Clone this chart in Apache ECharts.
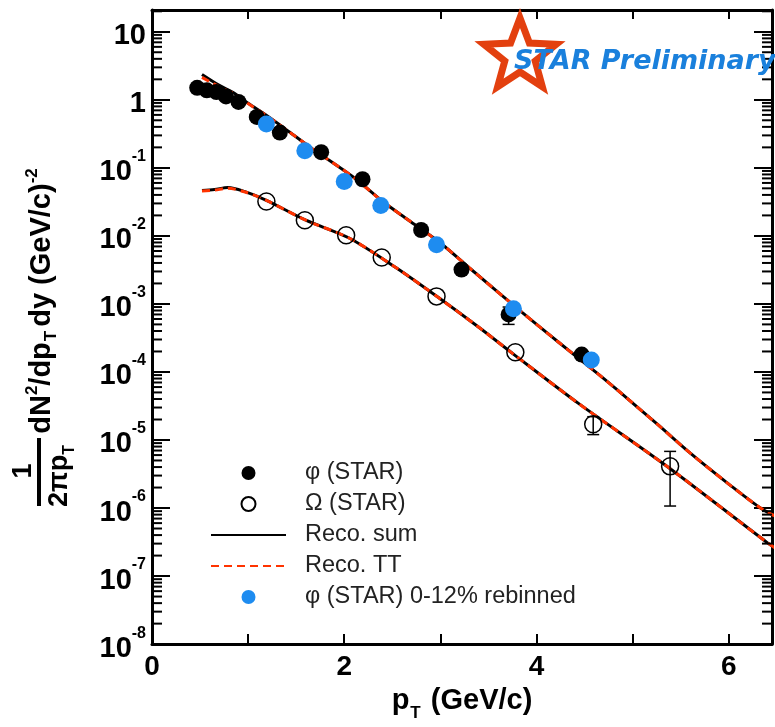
<!doctype html>
<html lang="en">
<head>
<meta charset="UTF-8">
<title>phi / Omega spectra</title>
<style>
    html, body { margin: 0; padding: 0; background: #fff; }
    #main { width: 775px; height: 727px; }
</style>
</head>
<body>
<div id="main"></div>
<script src="https://cdn.jsdelivr.net/npm/echarts@6/dist/echarts.min.js"></script>
<script type="text/javascript">
// phi (STAR) points
var phiX = [0.47, 0.57, 0.67, 0.77, 0.9, 1.09, 1.33, 1.76, 2.19, 2.8, 3.22, 3.71, 4.47];
var phiY = [1.5, 1.38, 1.3, 1.12, 0.93, 0.56, 0.33, 0.17, 0.068, 0.0122, 0.0032, 7.0e-4, 1.8e-4];
// phi (STAR) 0-12% rebinned
var phiRebX = [1.19, 1.59, 2.0, 2.38, 2.96, 3.76, 4.57];
var phiRebY = [0.44, 0.178, 0.063, 0.028, 0.0074, 8.5e-4, 1.5e-4];
// Omega (STAR)
var omegaX = [1.19, 1.59, 2.02, 2.39, 2.96, 3.78, 4.59, 5.39];
var omegaY = [0.032, 0.017, 0.0102, 0.0048, 1.29e-3, 1.95e-4, 1.7e-5, 4.1e-6];
// error bars [x, low, high]
var errBars = [
    [3.71, 5.0e-4, 9.0e-4],
    [4.59, 1.2e-5, 2.2e-5],
    [5.39, 1.07e-6, 6.8e-6]
];

// model curves
var phiCurveX = [0.52, 0.7, 0.84, 1.0, 1.2, 1.43, 1.67, 2.1, 2.4, 2.67, 3.0, 3.3, 3.85, 4.23, 4.64, 4.85, 5.26, 5.6, 6.0, 6.33, 6.5];
var phiSumY = [2.36, 1.63, 1.29, 0.89, 0.577, 0.337, 0.19, 0.072, 0.032, 0.017, 0.00785, 0.0034, 7.5e-4, 2.73e-4, 9.35e-5, 5.3e-5, 1.69e-5, 6.4e-6, 2.25e-6, 1.0e-6, 7.4e-7];
var phiTTY = [2.14, 1.55, 1.25, 0.88, 0.575, 0.336, 0.19, 0.072, 0.032, 0.017, 0.00785, 0.0034, 7.5e-4, 2.73e-4, 9.35e-5, 5.3e-5, 1.69e-5, 6.4e-6, 2.25e-6, 1.0e-6, 7.4e-7];
var omegaCurveX = [0.52, 0.65, 0.79, 0.96, 1.19, 1.6, 2.05, 2.54, 2.98, 3.4, 3.76, 4.44, 5.37, 6.4, 6.5];
var omegaSumY = [0.0466, 0.048, 0.0514, 0.045, 0.0333, 0.017, 0.0093, 0.0034, 1.24e-3, 4.53e-4, 1.83e-4, 3.42e-5, 3.98e-6, 3.1e-7, 2.5e-7];
var omegaTTY = [0.0455, 0.047, 0.05, 0.0445, 0.0333, 0.017, 0.0093, 0.0034, 1.24e-3, 4.53e-4, 1.83e-4, 3.42e-5, 3.98e-6, 3.1e-7, 2.5e-7];

var xTickLabels = ['0', '2', '4', '6'];
var yDecades = [-8, -7, -6, -5, -4, -3, -2, -1, 0, 1];

var X_MAX = 6.45, Y_MAX = 1.32;
var font = 'Liberation Sans';

function lg(v) { return Math.log10(v); }
function pairs(xs, ys) {
    return xs.map(function (x, i) { return [x, lg(ys[i])]; });
}

// log minor ticks 2..9 x 10^n
var minorTicks = [];
yDecades.forEach(function (n) {
    for (var k = 2; k <= 9; k++) {
        var v = lg(k) + n;
        if (v < Y_MAX) minorTicks.push([0, v]);
    }
});

var myChart = echarts.init(document.getElementById('main'), null, { renderer: 'canvas' });

var axisCommon = {
    type: 'value',
    axisLine: { show: true, onZero: false, lineStyle: { color: '#000', width: 3 } },
    splitLine: { show: false }
};

// star outline for the logo
var starPts = [];
for (var i = 0; i < 10; i++) {
    var a = -Math.PI / 2 + i * Math.PI / 5;
    var r = (i % 2 === 0) ? 38 : 16;
    starPts.push([520 + r * Math.cos(a), 56 + r * Math.sin(a)]);
}

var option = {
    animation: false,
    backgroundColor: '#fff',
    grid: { left: 152, top: 10, width: 621, height: 640 },
    legend: {
        orient: 'vertical',
        left: 205,
        top: 456,
        itemWidth: 75,
        itemHeight: 14,
        itemGap: 7,
        textStyle: { fontFamily: font, fontSize: 23.5, lineHeight: 24, color: '#222', padding: [0, 0, 0, 14] },
        data: [
            'φ (STAR)',
            'Ω (STAR)',
            { name: 'Reco. sum', itemStyle: { opacity: 0 } },
            { name: 'Reco. TT', itemStyle: { opacity: 0 } },
            'φ (STAR) 0-12% rebinned'
        ],
        selectedMode: false
    },
    xAxis: [
        Object.assign({}, axisCommon, {
            position: 'bottom',
            min: 0, max: X_MAX, interval: 1,
            axisTick: { show: true, inside: true, length: 10, lineStyle: { color: '#000', width: 2 } },
            axisLabel: {
                margin: 9, fontFamily: font, fontSize: 28, fontWeight: 'bold', color: '#000',
                formatter: function (v) {
                    var s = String(v);
                    return xTickLabels.indexOf(s) >= 0 ? s : '';
                }
            },
            name: '{b|p}{sub|T}{b| (GeV/c)}',
            nameLocation: 'middle',
            nameGap: 41,
            nameTextStyle: {
                rich: {
                    b: { fontFamily: font, fontSize: 29, fontWeight: 'bold', color: '#000', lineHeight: 36, verticalAlign: 'top' },
                    sub: { fontFamily: font, fontSize: 17, fontWeight: 'bold', color: '#000', lineHeight: 36, verticalAlign: 'bottom', padding: [0, 2, 0, 1] }
                }
            }
        }),
        Object.assign({}, axisCommon, {
            position: 'top',
            min: 0, max: X_MAX, interval: 1,
            axisTick: { show: true, inside: true, length: 9, lineStyle: { color: '#000', width: 2 } },
            axisLabel: { show: false }
        })
    ],
    yAxis: [
        Object.assign({}, axisCommon, {
            position: 'left',
            min: -8, max: Y_MAX, interval: 1,
            axisTick: { show: true, inside: true, length: 18, lineStyle: { color: '#000', width: 2 } },
            axisLabel: {
                margin: 6,
                formatter: function (v) {
                    if (Math.abs(v - Math.round(v)) > 1e-6) return '';
                    var n = Math.round(v);
                    if (n === 0) return '{b|1}';
                    if (n === 1) return '{b|10}';
                    return '{b|10}{s|' + n + '}';
                },
                rich: {
                    b: { fontFamily: font, fontSize: 29, fontWeight: 'bold', color: '#000', lineHeight: 38, verticalAlign: 'bottom' },
                    s: { fontFamily: font, fontSize: 16, fontWeight: 'bold', color: '#000', lineHeight: 22, verticalAlign: 'top' }
                }
            }
        }),
        Object.assign({}, axisCommon, {
            position: 'right',
            min: -8, max: Y_MAX, interval: 1,
            axisTick: { show: true, inside: true, length: 18, lineStyle: { color: '#000', width: 2 } },
            axisLabel: { show: false }
        })
    ],
    graphic: [
        // y axis title, rotated
        {
            type: 'text', x: 24, y: 471, rotation: Math.PI / 2,
            style: { text: '1', font: 'bold 27px ' + font, fill: '#000', align: 'center', verticalAlign: 'middle' }
        },
        {
            type: 'rect', shape: { x: 37, y: 438, width: 4, height: 68 }, style: { fill: '#000' }
        },
        {
            type: 'text', x: 62, y: 476, rotation: Math.PI / 2,
            style: {
                text: '{n|2πp}{sub|T}', align: 'center', verticalAlign: 'middle',
                rich: {
                    n: { font: 'bold 27px ' + font, fill: '#000', lineHeight: 32, verticalAlign: 'top' },
                    sub: { font: 'bold 16px ' + font, fill: '#000', lineHeight: 32, verticalAlign: 'bottom' }
                }
            }
        },
        {
            type: 'text', x: 42, y: 301, rotation: Math.PI / 2,
            style: {
                text: '{n|dN}{sup|2}{n|/dp}{sub|T}{n|dy (GeV/c)}{sup|-2}',
                align: 'center', verticalAlign: 'middle',
                rich: {
                    n: { font: 'bold 29px ' + font, fill: '#000', lineHeight: 36, verticalAlign: 'middle' },
                    sup: { font: 'bold 17px ' + font, fill: '#000', lineHeight: 36, verticalAlign: 'top' },
                    sub: { font: 'bold 17px ' + font, fill: '#000', lineHeight: 36, verticalAlign: 'bottom', padding: [0, 4, 0, 1] }
                }
            }
        },
        // STAR Preliminary logo
        {
            type: 'polygon', shape: { points: starPts },
            style: { fill: 'none', stroke: '#e3400f', lineWidth: 7, lineJoin: 'miter' }, z: 10
        },
        {
            type: 'text', x: 514, y: 62, z: 11,
            style: {
                text: 'STAR Preliminary', font: 'italic bold 27px "DejaVu Sans"',
                fill: '#1a80dc', verticalAlign: 'middle'
            }
        }
    ],
    series: [
        {
            name: 'Reco. sum', type: 'line', data: pairs(phiCurveX, phiSumY),
            symbol: 'none', smooth: 0.3, z: 2,
            lineStyle: { color: '#000', width: 3 }, itemStyle: { color: '#000' }
        },
        {
            name: 'Reco. sum', type: 'line', data: pairs(omegaCurveX, omegaSumY),
            symbol: 'none', smooth: 0.3, z: 2,
            lineStyle: { color: '#000', width: 3 }, itemStyle: { color: '#000' }
        },
        {
            name: 'Reco. TT', type: 'line', data: pairs(phiCurveX, phiTTY),
            symbol: 'none', smooth: 0.3, z: 3,
            lineStyle: { color: '#ff3300', width: 3, type: [8, 5] }, itemStyle: { color: '#ff3300' }
        },
        {
            name: 'Reco. TT', type: 'line', data: pairs(omegaCurveX, omegaTTY),
            symbol: 'none', smooth: 0.3, z: 3,
            lineStyle: { color: '#ff3300', width: 3, type: [8, 5] }, itemStyle: { color: '#ff3300' }
        },
        {
            name: 'errors', type: 'custom', z: 4,
            data: errBars.map(function (e) { return [e[0], lg(e[1]), lg(e[2])]; }),
            renderItem: function (params, api) {
                var lo = api.coord([api.value(0), api.value(1)]);
                var hi = api.coord([api.value(0), api.value(2)]);
                var st = { stroke: '#000', lineWidth: 1.5 };
                return {
                    type: 'group', children: [
                        { type: 'line', shape: { x1: lo[0], y1: lo[1], x2: hi[0], y2: hi[1] }, style: st },
                        { type: 'line', shape: { x1: lo[0] - 6, y1: lo[1], x2: lo[0] + 6, y2: lo[1] }, style: st },
                        { type: 'line', shape: { x1: hi[0] - 6, y1: hi[1], x2: hi[0] + 6, y2: hi[1] }, style: st }
                    ]
                };
            }
        },
        {
            name: 'φ (STAR)', type: 'scatter', data: pairs(phiX, phiY),
            symbol: 'circle', symbolSize: 16, z: 5,
            itemStyle: { color: '#000', opacity: 1 }
        },
        {
            name: 'Ω (STAR)', type: 'scatter', data: pairs(omegaX, omegaY),
            symbol: 'circle', symbolSize: 17, z: 5,
            itemStyle: { color: 'rgba(255,255,255,0)', borderColor: '#000', borderWidth: 1.5, opacity: 1 }
        },
        {
            name: 'φ (STAR) 0-12% rebinned', type: 'scatter', data: pairs(phiRebX, phiRebY),
            symbol: 'circle', symbolSize: 17, z: 6,
            itemStyle: { color: '#1e8cf0', opacity: 1 }
        },
        {
            name: 'minor', type: 'custom', z: 7, silent: true,
            data: minorTicks,
            renderItem: function (params, api) {
                var l = api.coord([0, api.value(1)]);
                var r = api.coord([X_MAX, api.value(1)]);
                var st = { stroke: '#000', lineWidth: 2 };
                return {
                    type: 'group', children: [
                        { type: 'line', shape: { x1: l[0], y1: l[1], x2: l[0] + 10, y2: l[1] }, style: st },
                        { type: 'line', shape: { x1: r[0], y1: r[1], x2: r[0] - 10, y2: r[1] }, style: st }
                    ]
                };
            }
        }
    ]
};

myChart.setOption(option);
</script>
</body>
</html>
